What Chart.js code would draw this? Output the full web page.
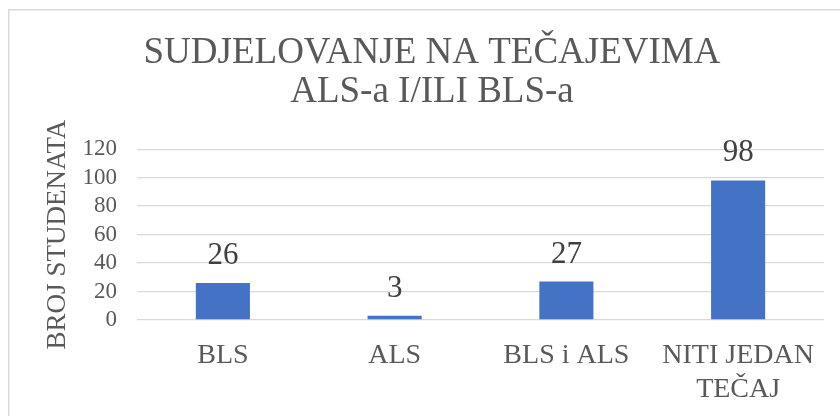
<!DOCTYPE html>
<html>
<head>
<meta charset="utf-8">
<script src="https://cdn.jsdelivr.net/npm/chart.js@4"></script>
</head>
<body style="margin:0">
<canvas id="chartCanvas" width="840" height="416"></canvas>
<script>
const categories = ['BLS', 'ALS', 'BLS i ALS', ['NITI JEDAN', 'TEČAJ']];
const students = [26, 3, 27, 98];
const yMax = 120;
const yStep = 20;
const titleLines = ['SUDJELOVANJE NA TEČAJEVIMA', 'ALS-a I/ILI BLS-a'];
const yTitle = 'BROJ STUDENATA';

Chart.defaults.font.family = "'Liberation Serif', 'Times New Roman', serif";
Chart.defaults.color = '#595959';

// thin frame of the original chart box (top and left edges are visible)
const frame = {
  id: 'frame',
  beforeDraw(chart) {
    const ctx = chart.ctx;
    ctx.save();
    ctx.strokeStyle = '#d9d9d9';
    ctx.lineWidth = 1.5;
    ctx.beginPath();
    ctx.moveTo(8.75, chart.height);
    ctx.lineTo(8.75, 9.75);
    ctx.lineTo(chart.width, 9.75);
    ctx.stroke();
    ctx.restore();
  }
};

// plain labels over each bar
const valueLabels = {
  id: 'valueLabels',
  afterDatasetsDraw(chart) {
    const ctx = chart.ctx;
    const meta = chart.getDatasetMeta(0);
    ctx.save();
    ctx.font = "31px 'Liberation Serif', serif";
    ctx.fillStyle = '#404040';
    ctx.textAlign = 'center';
    ctx.textBaseline = 'alphabetic';
    meta.data.forEach((bar, i) => {
      ctx.fillText(String(students[i]), bar.x, bar.y - 19);
    });
    ctx.restore();
  }
};

const myChart = new Chart(document.getElementById('chartCanvas'), {
  type: 'bar',
  data: {
    labels: categories,
    datasets: [{
      data: students,
      backgroundColor: '#4472C4',
      borderWidth: 0,
      barPercentage: 0.315,
      categoryPercentage: 1
    }]
  },
  options: {
    responsive: false,
    animation: false,
    layout: { padding: { left: 40, right: 16, top: 29, bottom: 0 } },
    plugins: {
      legend: { display: false },
      tooltip: { enabled: false },
      title: {
        display: true,
        text: titleLines,
        font: { size: 37, weight: 400, lineHeight: 1.07 },
        padding: { top: 4, bottom: 37 }
      }
    },
    scales: {
      x: {
        grid: { display: false },
        border: { display: false },
        afterFit(scale) {
          scale.height = 96;
        },
        ticks: {
          font: { size: 28, lineHeight: 1.2 },
          padding: 11,
          maxRotation: 0,
          autoSkip: false
        }
      },
      y: {
        min: 0,
        max: yMax,
        afterFit(scale) {
          scale.width = 97;
        },
        grid: { color: '#d9d9d9', lineWidth: 1.3, drawTicks: false },
        border: { display: false },
        ticks: {
          stepSize: yStep,
          autoSkip: false,
          font: { size: 23 },
          padding: 20
        },
        title: {
          display: true,
          text: yTitle,
          font: { size: 27, weight: 400 },
          padding: { top: 2, bottom: 0 }
        }
      }
    }
  },
  plugins: [frame, valueLabels]
});
</script>
</body>
</html>
